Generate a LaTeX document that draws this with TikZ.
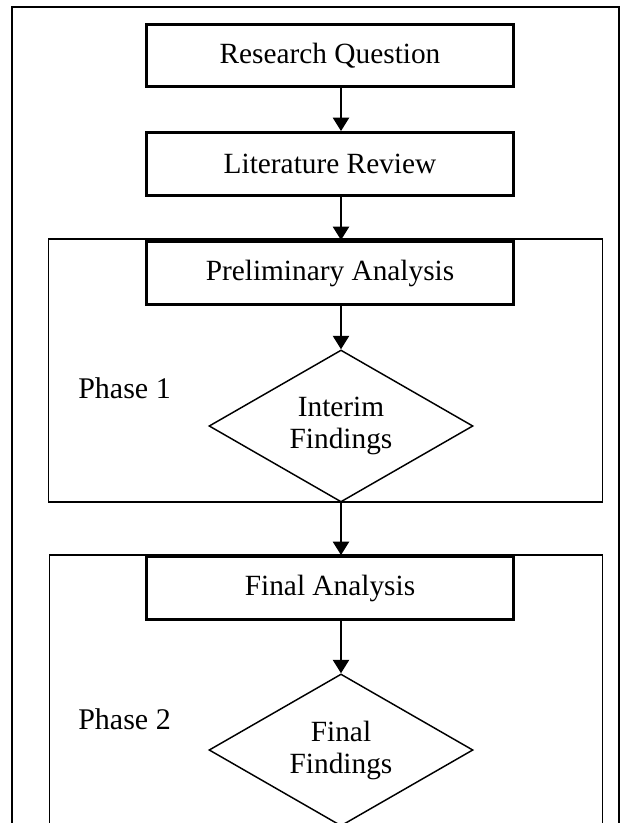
\documentclass[tikz,border=0pt]{standalone}
\usepackage{fontspec}
\setmainfont{Liberation Serif}
\usetikzlibrary{arrows.meta,shapes.geometric}
\begin{document}
\begin{tikzpicture}[x=0.75pt,y=-0.75pt,
  thickbox/.style={draw, rectangle, line width=2.4pt, minimum width=275pt, minimum height=47pt, inner sep=0pt, fill=white, font=\fontsize{22}{26}\selectfont},
  decide/.style={draw, diamond, line width=1.1pt, aspect=1.74, minimum width=198pt, minimum height=114pt, inner sep=0pt, align=center, font=\fontsize{22}{24}\selectfont},
  frame/.style={draw, rectangle, line width=1.1pt, inner sep=0pt},
  phaselbl/.style={anchor=west, inner sep=0pt, font=\fontsize{22.5}{27}\selectfont},
  arr/.style={line width=1.5pt, -{Triangle[length=10pt,width=12pt]}}]
\useasboundingbox (0,0) rectangle (628,823);
\clip (0,0) rectangle (628,823);
% outer frame
\node[frame, line width=1.5pt, minimum width=455.25pt, minimum height=672pt] (outer) at (315.5,455.5) {};
% phase frames
\node[frame, minimum width=415.5pt, minimum height=197.25pt] (p1) at (325.5,370.5) {};
\node[frame, minimum width=414.75pt, minimum height=258pt] (p2) at (326,727) {};
% boxes
\node[thickbox] (rq) at (330,55.5) {Research Question};
\node[thickbox] (lr) at (330,164) {Literature Review};
\node[thickbox] (pa) at (330,273) {Preliminary Analysis};
\node[thickbox] (fa) at (330,588) {Final Analysis};
% diamonds
\node[decide] (d1) at (341,426) {Interim\\Findings};
\node[decide] (d2) at (341,750) {Final\\Findings};
% phase labels
\node[phaselbl] (ph1) at (78,388) {Phase 1};
\node[phaselbl] (ph2) at (78,719) {Phase 2};
% arrows
\draw[arr] (rq.south -| d1.north) -- (lr.north -| d1.north);
\draw[arr] (lr.south -| d1.north) -- (pa.north -| d1.north);
\draw[arr] (pa.south -| d1.north) -- (d1.north);
\draw[arr] (d1.south) -- (fa.north -| d1.south);
\draw[arr] (fa.south -| d2.north) -- (d2.north);
\end{tikzpicture}
\end{document}
